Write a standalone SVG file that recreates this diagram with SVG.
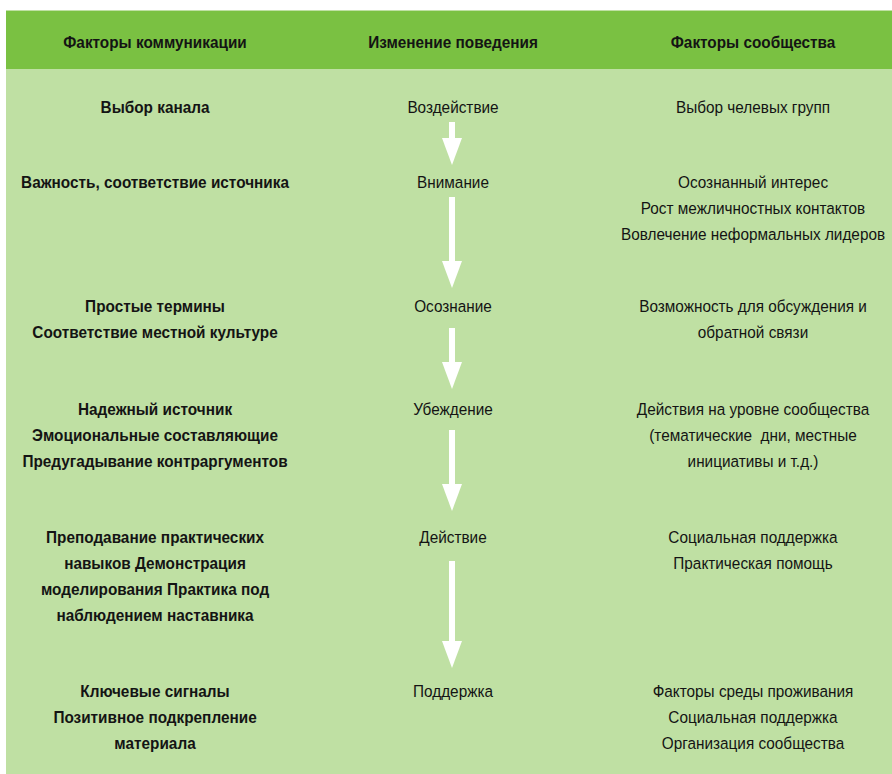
<svg xmlns="http://www.w3.org/2000/svg" width="892" height="774" viewBox="0 0 892 774">
<defs>
<style>
.t{font-family:"Liberation Sans",Arial,sans-serif;font-size:16.5px;fill:#141414;text-anchor:middle}
.b{font-weight:bold}
.n{transform:scale(0.93,1)}
.sh{stroke:#ffffff;stroke-width:6;fill:none}
</style>
<marker id="ah" markerUnits="userSpaceOnUse" viewBox="0 0 27 20" markerWidth="27" markerHeight="20" refX="0" refY="10" orient="auto">
<path d="M0,0 L27,10 L0,20 z" fill="#ffffff"/>
</marker>
</defs>
<rect x="0" y="0" width="892" height="774" fill="#ffffff"/>
<rect x="6" y="10" width="886" height="764" fill="#bfe0a3"/>
<rect x="6" y="11" width="886" height="58" fill="#7ac142"/>
<g id="header" class="n">
<text class="t b" x="166.7" y="48">Факторы коммуникации</text>
<text class="t b" x="487.1" y="48">Изменение поведения</text>
<text class="t b" x="809.7" y="48">Факторы сообщества</text>
</g>
<g id="row1" class="n">
<text class="t b" x="166.7" y="113">Выбор канала</text>
<text class="t" x="487.1" y="113">Воздействие</text>
<text class="t" x="809.7" y="113">Выбор челевых групп</text>
</g>
<g id="row2" class="n">
<text class="t b" x="166.7" y="188">Важность, соответствие источника</text>
<text class="t" x="487.1" y="188">Внимание</text>
<text class="t" x="809.7" y="188">Осознанный интерес</text>
<text class="t" x="809.7" y="214">Рост межличностных контактов</text>
<text class="t" x="809.7" y="240">Вовлечение неформальных лидеров</text>
</g>
<g id="row3" class="n">
<text class="t b" x="166.7" y="312">Простые термины</text>
<text class="t b" x="166.7" y="338">Соответствие местной культуре</text>
<text class="t" x="487.1" y="312">Осознание</text>
<text class="t" x="809.7" y="312">Возможность для обсуждения и</text>
<text class="t" x="809.7" y="338">обратной связи</text>
</g>
<g id="row4" class="n">
<text class="t b" x="166.7" y="415">Надежный источник</text>
<text class="t b" x="166.7" y="441">Эмоциональные составляющие</text>
<text class="t b" x="166.7" y="467">Предугадывание контраргументов</text>
<text class="t" x="487.1" y="415">Убеждение</text>
<text class="t" x="809.7" y="415">Действия на уровне сообщества</text>
<text class="t" x="809.7" y="441" xml:space="preserve">(тематические  дни, местные</text>
<text class="t" x="809.7" y="467">инициативы и т.д.)</text>
</g>
<g id="row5" class="n">
<text class="t b" x="166.7" y="543.5">Преподавание практических</text>
<text class="t b" x="166.7" y="569.5">навыков Демонстрация</text>
<text class="t b" x="166.7" y="595.5">моделирования Практика под</text>
<text class="t b" x="166.7" y="621.5">наблюдением наставника</text>
<text class="t" x="487.1" y="543.5">Действие</text>
<text class="t" x="809.7" y="543.5">Социальная поддержка</text>
<text class="t" x="809.7" y="569.5">Практическая помощь</text>
</g>
<g id="row6" class="n">
<text class="t b" x="166.7" y="697">Ключевые сигналы</text>
<text class="t b" x="166.7" y="723">Позитивное подкрепление</text>
<text class="t b" x="166.7" y="749">материала</text>
<text class="t" x="487.1" y="697">Поддержка</text>
<text class="t" x="809.7" y="697">Факторы среды проживания</text>
<text class="t" x="809.7" y="723">Социальная поддержка</text>
<text class="t" x="809.7" y="749">Организация сообщества</text>
</g>
<g id="connectors">
<line class="sh" x1="452" y1="122" x2="452" y2="138" marker-end="url(#ah)"/>
<line class="sh" x1="452" y1="197" x2="452" y2="261" marker-end="url(#ah)"/>
<line class="sh" x1="452" y1="328" x2="452" y2="362" marker-end="url(#ah)"/>
<line class="sh" x1="452" y1="430" x2="452" y2="484" marker-end="url(#ah)"/>
<line class="sh" x1="452" y1="561" x2="452" y2="641" marker-end="url(#ah)"/>
</g>
</svg>
